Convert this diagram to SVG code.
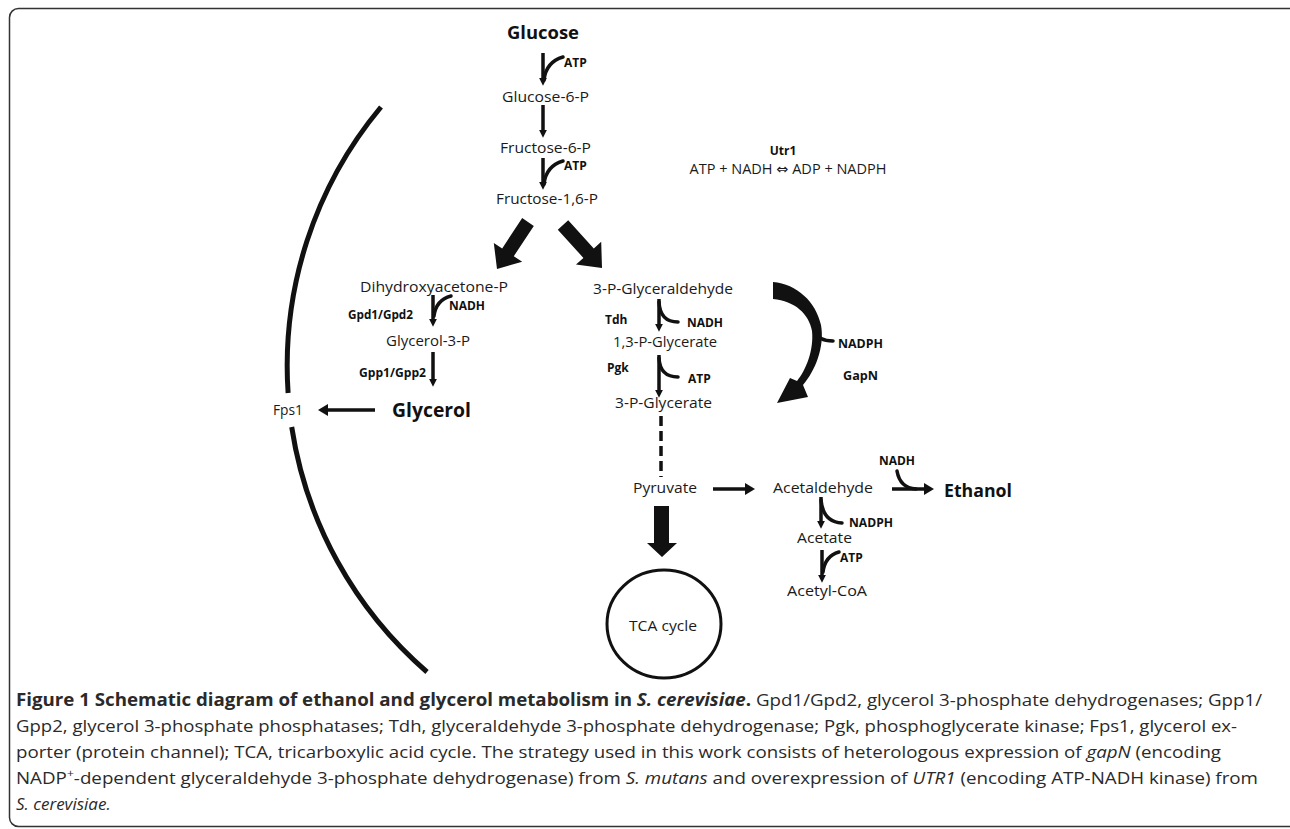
<svg xmlns="http://www.w3.org/2000/svg" width="1290" height="829" viewBox="0 0 1290 829">
<style>
.t{font-family:"Open Sans","Liberation Sans",sans-serif;font-size:14px;fill:#1a1a1a}
.b{font-family:"Open Sans","Liberation Sans",sans-serif;font-size:12px;font-weight:bold;fill:#111}
.big{font-family:"Open Sans","Liberation Sans",sans-serif;font-weight:bold;fill:#111}
.s{fill:none;stroke:#111;stroke-width:3.5}
.br{fill:none;stroke:#111;stroke-width:3.5;stroke-linecap:round}
.f{fill:#111}
.cap{font-family:"Open Sans","Liberation Sans",sans-serif;font-size:17px;fill:#2a2a2a}
</style>
<defs>
<marker id="ah" viewBox="0 0 10 10" refX="4" refY="5" markerWidth="8" markerHeight="8" markerUnits="userSpaceOnUse" orient="auto"><path d="M0,0L10,5L0,10z" fill="#111"/></marker>
<marker id="ahb" viewBox="0 0 10 12" refX="4" refY="6" markerWidth="10" markerHeight="12" markerUnits="userSpaceOnUse" orient="auto"><path d="M0,0L10,6L0,12z" fill="#111"/></marker>
</defs>
<rect x="9.5" y="8.5" width="1290" height="818" rx="9" fill="#fff" stroke="#333" stroke-width="1.5"/>

<!-- membrane arc, interrupted at the Fps1 channel -->
<path id="membrane" d="M381,107 A404.3,404.3 0 0,0 288.1,393 M291.7,427 A404.3,404.3 0 0,0 427,672" fill="none" stroke="#111" stroke-width="5"/>

<g id="connectors">
  <!-- glycolysis top -->
  <line class="s" x1="543" y1="53" x2="543" y2="81" marker-end="url(#ah)"/>
  <path class="br" d="M544,80 Q546,62 563,57"/>
  <line class="s" x1="543" y1="105" x2="543" y2="133" marker-end="url(#ah)"/>
  <line class="s" x1="543" y1="158" x2="543" y2="185" marker-end="url(#ah)"/>
  <path class="br" d="M544,184 Q546,166 563,161"/>
  <!-- big split arrows -->
  <polygon class="f" points="522.2,218.1 533.8,225.9 513.8,256.2 522.2,261.7 497,269 493.8,242.9 502.2,248.4"/>
  <polygon class="f" points="568.2,220.3 557.8,229.7 583.4,257.9 576,264.6 602,268 601.2,241.8 593.8,248.5"/>
  <!-- glycerol branch -->
  <line class="s" x1="433" y1="295" x2="433" y2="322" marker-end="url(#ah)"/>
  <path class="br" d="M434,316 Q436,300 451,296"/>
  <line class="s" x1="433" y1="352" x2="433" y2="382" stroke-width="4.5" marker-end="url(#ah)"/>
  <line class="s" x1="375" y1="410" x2="324" y2="410" stroke-width="5" marker-end="url(#ahb)"/>
  <!-- lower glycolysis -->
  <line class="s" x1="659" y1="299" x2="659" y2="327" marker-end="url(#ah)"/>
  <path class="br" d="M659,302 Q660,322 678,322"/>
  <line class="s" x1="659" y1="355" x2="659" y2="393" marker-end="url(#ah)"/>
  <path class="br" d="M659,358 Q660,377 678,377"/>
  <line class="s" x1="661" y1="416" x2="661" y2="477" stroke-width="4" stroke-dasharray="10 5"/>
  <!-- GapN curved arrow -->
  <path class="f" d="M773,282 C797,284 816,302 821,325 C825,347 815,371 803,385 L808,397 L777,403 L790,378 L797,381 C806,370 814,350 812,331 C809,314 795,301 773,299 Z"/>
  <path class="br" d="M815,331 Q818,341 833,341"/>
  <!-- pyruvate -->
  <line class="s" x1="713" y1="489" x2="749" y2="489" stroke-width="4" marker-end="url(#ahb)"/>
  <polygon class="f" points="654,506 669,506 669,543 677,543 662,557 647,543 654,543"/>
  <line class="s" x1="892" y1="489" x2="928" y2="489" stroke-width="4" marker-end="url(#ahb)"/>
  <path class="br" d="M897,471 Q900,488 916,489"/>
  <line class="s" x1="821" y1="497" x2="821" y2="524" marker-end="url(#ah)"/>
  <path class="br" d="M821,500 Q823,522 842,523"/>
  <line class="s" x1="822" y1="550" x2="822" y2="578" marker-end="url(#ah)"/>
  <path class="br" d="M823,572 Q825,556 839,552"/>
</g>

<g id="glucose"><text class="big" x="543" y="39" font-size="17" text-anchor="middle" textLength="72" lengthAdjust="spacingAndGlyphs">Glucose</text></g>
<g id="atp1"><text class="b" x="564" y="67">ATP</text></g>
<g id="glucose6p"><text class="t" x="545.5" y="102" text-anchor="middle" textLength="87" lengthAdjust="spacingAndGlyphs">Glucose-6-P</text></g>
<g id="fructose6p"><text class="t" x="545.5" y="153" text-anchor="middle" textLength="91" lengthAdjust="spacingAndGlyphs">Fructose-6-P</text></g>
<g id="atp2"><text class="b" x="564" y="170">ATP</text></g>
<g id="fructose16p"><text class="t" x="547" y="204" text-anchor="middle" textLength="102" lengthAdjust="spacingAndGlyphs">Fructose-1,6-P</text></g>
<g id="utr1"><text class="b" x="783" y="155" text-anchor="middle">Utr1</text>
<text class="t" x="788" y="174" text-anchor="middle" font-size="13" textLength="197" lengthAdjust="spacingAndGlyphs">ATP + NADH <tspan font-family="DejaVu Sans" font-size="14">⇔</tspan> ADP + NADPH</text></g>

<g id="dhap"><text class="t" x="434" y="292" text-anchor="middle" textLength="148" lengthAdjust="spacingAndGlyphs">Dihydroxyacetone-P</text></g>
<g id="nadh-gpd"><text class="b" x="449" y="310" textLength="36" lengthAdjust="spacingAndGlyphs">NADH</text></g>
<g id="gpd"><text class="b" x="348" y="319" textLength="65" lengthAdjust="spacingAndGlyphs">Gpd1/Gpd2</text></g>
<g id="glycerol3p"><text class="t" x="428" y="346" text-anchor="middle" textLength="84" lengthAdjust="spacingAndGlyphs">Glycerol-3-P</text></g>
<g id="gpp"><text class="b" x="359" y="377" textLength="67" lengthAdjust="spacingAndGlyphs">Gpp1/Gpp2</text></g>
<g id="glycerol"><text class="big" x="392" y="417" font-size="20" textLength="79" lengthAdjust="spacingAndGlyphs">Glycerol</text></g>
<g id="fps1"><text class="t" x="273" y="415" font-size="15" textLength="30" lengthAdjust="spacingAndGlyphs">Fps1</text></g>

<g id="g3p"><text class="t" x="663" y="294" text-anchor="middle" textLength="140" lengthAdjust="spacingAndGlyphs">3-P-Glyceraldehyde</text></g>
<g id="tdh"><text class="b" x="605" y="324">Tdh</text></g>
<g id="nadh-tdh"><text class="b" x="687" y="327" textLength="36" lengthAdjust="spacingAndGlyphs">NADH</text></g>
<g id="bpg"><text class="t" x="665" y="347" text-anchor="middle" textLength="104" lengthAdjust="spacingAndGlyphs">1,3-P-Glycerate</text></g>
<g id="pgk"><text class="b" x="607" y="372">Pgk</text></g>
<g id="atp-pgk"><text class="b" x="688" y="383">ATP</text></g>
<g id="pg3"><text class="t" x="663.5" y="408" text-anchor="middle" textLength="97" lengthAdjust="spacingAndGlyphs">3-P-Glycerate</text></g>
<g id="gapn"><text class="b" x="838" y="348" textLength="45" lengthAdjust="spacingAndGlyphs">NADPH</text>
<text class="b" x="843" y="380" textLength="35" lengthAdjust="spacingAndGlyphs">GapN</text></g>

<g id="pyruvate"><text class="t" x="665" y="493" text-anchor="middle" textLength="64" lengthAdjust="spacingAndGlyphs">Pyruvate</text></g>
<g id="acetaldehyde"><text class="t" x="823" y="493" text-anchor="middle" textLength="100" lengthAdjust="spacingAndGlyphs">Acetaldehyde</text></g>
<g id="nadh-eth"><text class="b" x="879" y="465" textLength="36" lengthAdjust="spacingAndGlyphs">NADH</text></g>
<g id="ethanol"><text class="big" x="944" y="497" font-size="18" textLength="68" lengthAdjust="spacingAndGlyphs">Ethanol</text></g>
<g id="nadph-ace"><text class="b" x="849" y="527" textLength="44" lengthAdjust="spacingAndGlyphs">NADPH</text></g>
<g id="acetate"><text class="t" x="824.5" y="543" text-anchor="middle" textLength="55" lengthAdjust="spacingAndGlyphs">Acetate</text></g>
<g id="atp-ace"><text class="b" x="840" y="562">ATP</text></g>
<g id="acetylcoa"><text class="t" x="827" y="596" text-anchor="middle" textLength="80" lengthAdjust="spacingAndGlyphs">Acetyl-CoA</text></g>
<g id="tca"><ellipse cx="664" cy="624" rx="57" ry="54" fill="none" stroke="#111" stroke-width="3"/>
<text class="t" x="663" y="631" text-anchor="middle" textLength="68" lengthAdjust="spacingAndGlyphs">TCA cycle</text></g>

<g id="caption">
<text class="cap" x="16" y="706" textLength="1246" lengthAdjust="spacingAndGlyphs"><tspan font-weight="bold">Figure 1 Schematic diagram of ethanol and glycerol metabolism in <tspan font-style="italic">S. cerevisiae</tspan>.</tspan> Gpd1/Gpd2, glycerol 3-phosphate dehydrogenases; Gpp1/</text>
<text class="cap" x="16" y="732" textLength="1221" lengthAdjust="spacingAndGlyphs">Gpp2, glycerol 3-phosphate phosphatases; Tdh, glyceraldehyde 3-phosphate dehydrogenase; Pgk, phosphoglycerate kinase; Fps1, glycerol ex-</text>
<text class="cap" x="16" y="758" textLength="1205" lengthAdjust="spacingAndGlyphs">porter (protein channel); TCA, tricarboxylic acid cycle. The strategy used in this work consists of heterologous expression of <tspan font-style="italic">gapN</tspan> (encoding</text>
<text class="cap" x="16" y="784" textLength="1242" lengthAdjust="spacingAndGlyphs">NADP<tspan baseline-shift="super" font-size="11">+</tspan>-dependent glyceraldehyde 3-phosphate dehydrogenase) from <tspan font-style="italic">S. mutans</tspan> and overexpression of <tspan font-style="italic">UTR1</tspan> (encoding ATP-NADH kinase) from</text>
<text class="cap" x="16" y="810" font-style="italic">S. cerevisiae.</text>
</g>
</svg>
